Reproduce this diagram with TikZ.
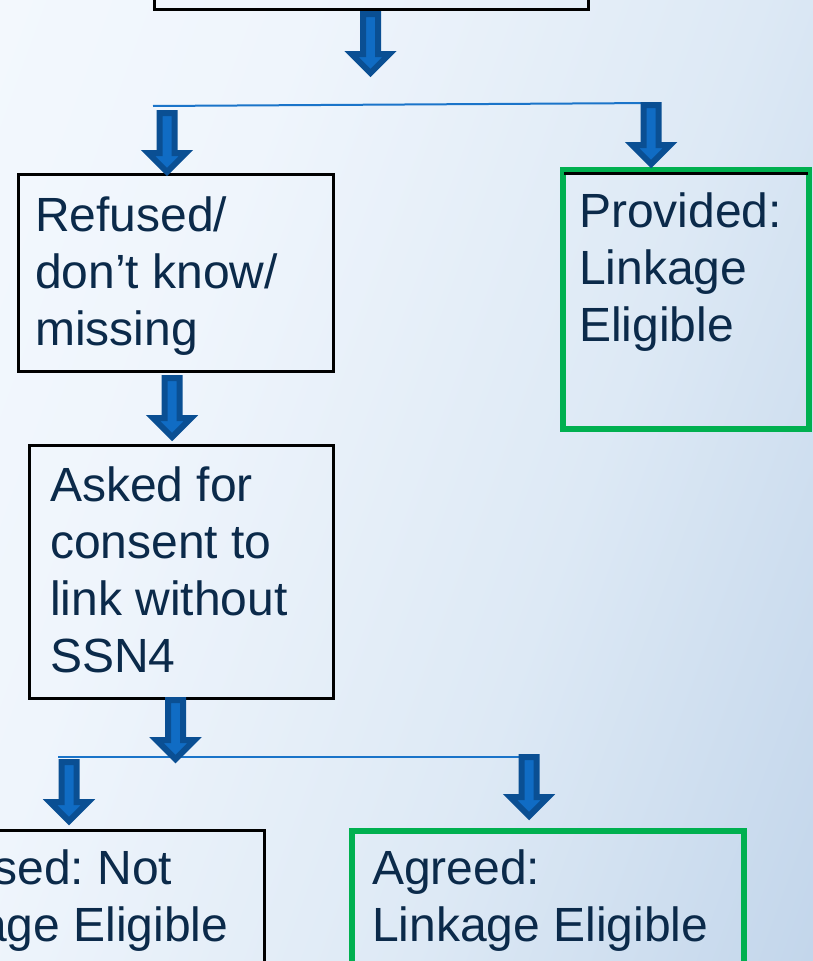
\documentclass[tikz,border=0pt]{standalone}
\usepackage{fontspec}
\setmainfont{Liberation Sans}
\usepackage{xcolor}
\usepackage{tikz}
\usetikzlibrary{calc}
\frenchspacing
\definecolor{arrowblue}{HTML}{106CC4}
\definecolor{arrowedge}{HTML}{0A4F93}
\definecolor{linkgreen}{HTML}{00B050}
\definecolor{inkblue}{HTML}{0B2A4A}
\definecolor{linkblue}{HTML}{1A74C9}
\definecolor{bgA}{HTML}{F7FBFF}
\definecolor{bgB}{HTML}{EFF5FC}
\definecolor{bgC}{HTML}{DDE9F5}
\definecolor{bgD}{HTML}{C3D6EB}
\definecolor{bgE}{HTML}{A6BFDB}
\pgfdeclarehorizontalshading{slidebg}{100bp}{color(0bp)=(bgA); color(35bp)=(bgB); color(60bp)=(bgC); color(82bp)=(bgD); color(100bp)=(bgE)}
\tikzset{
    pics/blockdown/.style = {
        code = {%
        \coordinate (-north) at (0,0);
        \coordinate (-south) at (0,66);
        \filldraw[fill=arrowblue, draw=arrowedge, line width=6pt, line join=miter]
            (-7.5,3) -- (7.5,3) -- (7.5,43) -- (19,43) -- (0,62) -- (-19,43) -- (-7.5,43) -- cycle;
        }
    },
    box/.style = {draw=black, line width=3pt, anchor=north west, inner sep=0pt},
    okbox/.style = {box, draw=linkgreen, line width=6pt},
    txt/.style = {anchor=north west, inner sep=0pt, align=left, text=inkblue,
        font=\fontsize{48}{57}\selectfont},
    branch/.style = {draw=linkblue, line width=2pt},
}
\begin{document}
\begin{tikzpicture}[x=1pt, y=-1pt]
\useasboundingbox (0,0) rectangle (813,961);
\clip (0,0) rectangle (813,961);
\shade[shading=slidebg, shading angle=-20] (0,0) rectangle (813,961);

\node[box, minimum width=434, minimum height=158] (Top) at (153,-150) {};
\pic (D1) at ($(Top.south)+(-1,0)$) {blockdown};

\coordinate (S1w) at (153,106);
\coordinate (S1e) at (656,103);
\draw[branch] (S1w) -- (S1e);

\node[box, minimum width=315, minimum height=197] (Ref) at (17,173) {};
\node[txt] (RefT) at (35,197) {Refused/\\don’t know/\\missing};
\pic (D2) at (167,110) {blockdown};

\node[okbox, minimum width=246, minimum height=259] (Prov) at (560,167) {};
\draw[line width=3pt] ($(Prov.north west)+(4,6)$) -- ($(Prov.north east)+(-4,6)$);
\node[txt] (ProvT) at (579,193) {Provided:\\Linkage\\Eligible};
\pic (D3) at (651,102) {blockdown};

\node[box, minimum width=304, minimum height=253] (Ask) at (28,444) {};
\node[txt] (AskT) at (50,467) {Asked for\\consent to\\link without\\SSN4};
\pic (D4) at ($(Ref.south)+(-4,2)$) {blockdown};

\coordinate (S2w) at (58,757);
\coordinate (S2e) at (520,757);
\draw[branch] (S2w) -- (S2e);
\pic (D5) at ($(Ask.south)+(-6,-3)$) {blockdown};

\node[box, minimum width=391, minimum height=300] (Not) at (-128,829) {};
\node[txt] (NotT) at (-108,850) {Refused: Not\\Linkage Eligible};
\pic (D6) at (69,759) {blockdown};

\node[okbox, minimum width=392, minimum height=300] (Agr) at (349,828) {};
\node[txt] (AgrT) at (372,850) {Agreed:\\Linkage Eligible};
\pic (D7) at (529,754) {blockdown};
\end{tikzpicture}
\end{document}
